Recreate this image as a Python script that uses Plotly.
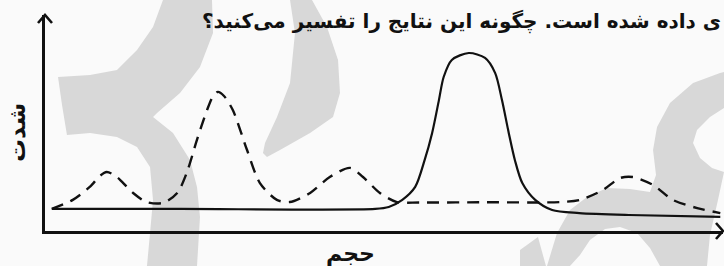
import plotly.graph_objects as go

# ---- data (volume units 0-100, intensity units 0-100) ----
solid_x = [1.0, 20.0, 48.7, 50.7, 52.7, 54.6, 56.0, 57.1, 58.1, 58.8, 60.0, 62.5, 64.9, 66.4,
           67.4, 68.4, 69.3, 70.4, 72.3, 74.8, 78.8, 86.1, 99.6]
solid_y = [10.2, 10.2, 10.2, 11.1, 14.4, 20.4, 32.9, 45.4, 60.6, 71.3, 79.2, 82.4, 80.1, 73.1,
           60.6, 45.4, 32.9, 22.2, 14.4, 9.7, 8.3, 7.4, 6.5]

dashed_x = [1.0, 4.1, 6.6, 8.1, 9.1, 10.2, 11.1, 13.0, 15.0, 17.4, 19.5, 20.9, 22.4, 23.9, 24.8,
            25.5, 26.4, 27.7, 29.8, 31.7, 34.2, 36.1, 39.1, 42.0, 45.0, 46.9, 49.4, 51.9, 55.3,
            65.0, 76.0, 78.9, 82.3, 84.8, 86.7, 89.7, 92.6, 96.2, 99.6]
dashed_y = [10.2, 14.4, 20.4, 25.5, 27.3, 25.9, 23.6, 17.6, 13.4, 13.0, 17.6, 26.9, 42.1, 56.0, 62.5,
            64.4, 62.5, 56.0, 37.5, 22.2, 14.4, 13.4, 17.6, 25.0, 29.2, 25.0, 17.6, 13.4, 13.2,
            13.3, 13.4, 14.4, 19.0, 24.5, 25.0, 21.3, 14.4, 10.6, 8.3]

title_text = "ی داده شده است. چگونه این نتایج را تفسیر می‌کنید؟"
x_label = "حجم"
y_label = "شدت"

# ---- layout geometry ----
W, H = 724, 266
ML, MR, MT, MB = 45, 1, 15, 35
PW, PH = W - ML - MR, H - MT - MB


def px(x):
    return (x - ML) / PW


def py(y):
    return (H - MB - y) / PH


def poly(pts):
    return "M " + " L ".join(f"{px(a):.4f},{py(b):.4f}" for a, b in pts) + " Z"


WM = "#d8d8d8"
wm_left = [(163, 0), (212, 0), (213, 33), (200, 67), (180, 93), (157, 113), (153, 117), (173, 133),
           (190, 160), (197, 187), (200, 217), (197, 266), (147, 266), (150, 233), (153, 200),
           (150, 167), (137, 147), (117, 137), (90, 133), (67, 135), (62, 105), (58, 77), (90, 75),
           (117, 70), (137, 50), (153, 27)]
wm_mid = [(290, 0), (295, 33), (290, 83), (277, 117), (265, 143), (263, 153), (267, 157), (280, 150),
          (310, 133), (333, 117), (340, 93), (338, 60), (327, 27), (312, 0)]
wm_right = [(547, 266), (557, 233), (570, 210), (587, 197), (607, 188), (630, 189), (650, 192),
            (656, 175), (653, 150), (657, 127), (670, 103), (693, 83), (720, 73), (724, 72),
            (724, 108), (710, 117), (697, 130), (693, 143), (700, 158), (712, 168), (724, 172),
            (718, 200), (710, 235), (707, 266), (660, 266), (650, 248), (637, 233), (620, 227),
            (605, 229), (590, 240), (580, 255), (570, 266)]
wm_small = [(520, 250), (538, 237), (546, 266), (520, 266)]

fig = go.Figure()
fig.add_trace(go.Scatter(x=dashed_x, y=dashed_y, mode="lines",
                         line=dict(color="#111111", width=2.4, dash="12px,8px", shape="spline",
                                   smoothing=0.8),
                         hoverinfo="skip"))
fig.add_trace(go.Scatter(x=solid_x, y=solid_y, mode="lines",
                         line=dict(color="#111111", width=2.2, shape="spline", smoothing=0.8),
                         hoverinfo="skip"))

shapes = []
for pts in (wm_left, wm_mid, wm_right, wm_small):
    shapes.append(dict(type="path", xref="paper", yref="paper", path=poly(pts),
                       fillcolor=WM, line=dict(width=0), layer="below"))
# arrowheads
shapes.append(dict(type="path", xref="paper", yref="paper", xsizemode="pixel", ysizemode="pixel",
                   xanchor=0, yanchor=1, path="M -7,-8 L 0,0 L 7,-8",
                   line=dict(color="#111111", width=2.6)))
shapes.append(dict(type="path", xref="paper", yref="paper", xsizemode="pixel", ysizemode="pixel",
                   xanchor=1, yanchor=0, path="M -7,8 L 0,0 L -7,-8",
                   line=dict(color="#111111", width=2.6)))

fig.update_layout(
    width=W, height=H,
    margin=dict(l=ML, r=MR, t=MT, b=MB, pad=0),
    paper_bgcolor="#fafafa", plot_bgcolor="rgba(0,0,0,0)",
    showlegend=False,
    hovermode=False,
    shapes=shapes,
    xaxis=dict(range=[0, 100], showgrid=False, zeroline=False, showticklabels=False, ticks="",
               showline=True, linecolor="#111111", linewidth=2.6),
    yaxis=dict(range=[0, 100], showgrid=False, zeroline=False, showticklabels=False, ticks="",
               showline=True, linecolor="#111111", linewidth=2.6),
    annotations=[
        dict(text=f"<b>{title_text}</b>", xref="paper", yref="paper", x=px(723), y=py(21),
             xanchor="right", yanchor="middle", showarrow=False,
             font=dict(family="DejaVu Sans", size=20, color="#111111")),
        dict(text=f"<b>{x_label}</b>", xref="paper", yref="paper", x=px(350), y=py(254),
             xanchor="center", yanchor="middle", showarrow=False,
             font=dict(family="DejaVu Sans", size=22, color="#111111")),
        dict(text=f"<b>{y_label}</b>", xref="paper", yref="paper", x=px(17), y=py(133),
             xanchor="center", yanchor="middle", showarrow=False, textangle=-90,
             font=dict(family="DejaVu Sans", size=23, color="#111111")),
    ],
)
fig.write_html("out.html", config={"displayModeBar": False, "staticPlot": True},
               post_script="document.body.style.margin='0';document.body.style.overflow='hidden';")
